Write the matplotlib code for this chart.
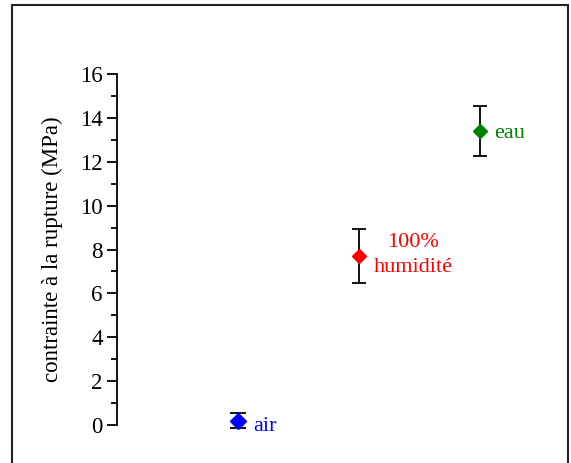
import matplotlib.pyplot as plt
from matplotlib.patches import Rectangle
from matplotlib.ticker import MultipleLocator

plt.rcParams['font.family'] = ['Liberation Serif', 'DejaVu Serif']

# valeurs
conditions = ['air', '100%\nhumidité', 'eau']
positions = [1, 2, 3]
contrainte = [0.2, 7.7, 13.4]
ecart = [0.35, 1.23, 1.15]
couleurs = ['#0000ff', '#ff0000', '#008000']
tailles = [8.0, 7.4, 6.8]
caps = [5.6, 5.0, 5.0]

W, H = 571, 463
fig = plt.figure(figsize=(W / 100, H / 100), dpi=100)

x0, y0, y16 = 116.5, 425, 74
px_unit = 121
ax = fig.add_axes([x0 / W, (H - y0) / H, 3.6 * px_unit / W, (y0 - y16) / H])
ax.set_xlim(0, 3.6)
ax.set_ylim(0, 16)

for x, y, e, c, ms, cs in zip(positions, contrainte, ecart, couleurs, tailles, caps):
    ax.errorbar(x, y, yerr=e, fmt='none', ecolor='black', elinewidth=1.3,
                capsize=cs, capthick=1.3, clip_on=False, zorder=2)
    ax.plot(x, y, marker='D', color=c, markersize=ms, linestyle='none',
            clip_on=False, zorder=3)

ax.text(positions[0] + 0.13, contrainte[0] - 0.25, conditions[0], color=couleurs[0],
        fontsize=16, ha='left', va='center')
ax.text(positions[1] + 0.45, contrainte[1] + 0.05, conditions[1], color=couleurs[1],
        fontsize=16, ha='center', va='center', linespacing=1.4)
ax.text(positions[2] + 0.12, contrainte[2] - 0.1, conditions[2], color=couleurs[2],
        fontsize=16, ha='left', va='center')

for s in ['top', 'right', 'bottom']:
    ax.spines[s].set_visible(False)
ax.spines['left'].set_linewidth(1.3)
ax.set_xticks([])
ax.yaxis.set_major_locator(MultipleLocator(2))
ax.yaxis.set_minor_locator(MultipleLocator(1))
ax.tick_params(axis='y', which='major', direction='out', length=7, width=1.3,
               labelsize=16.5, pad=3)
ax.tick_params(axis='y', which='minor', direction='out', length=4.5, width=1.3)
ax.set_ylabel('contrainte à la rupture (MPa)', fontsize=16.5, labelpad=12)
ax.patch.set_visible(False)

cadre = Rectangle((12 / W, -0.05), (568 - 12) / W, (H - 5.5) / H + 0.05,
                  transform=fig.transFigure, fill=False, edgecolor='#222222',
                  linewidth=1.5)
fig.patches.append(cadre)

fig.savefig('out.png', dpi=100)
